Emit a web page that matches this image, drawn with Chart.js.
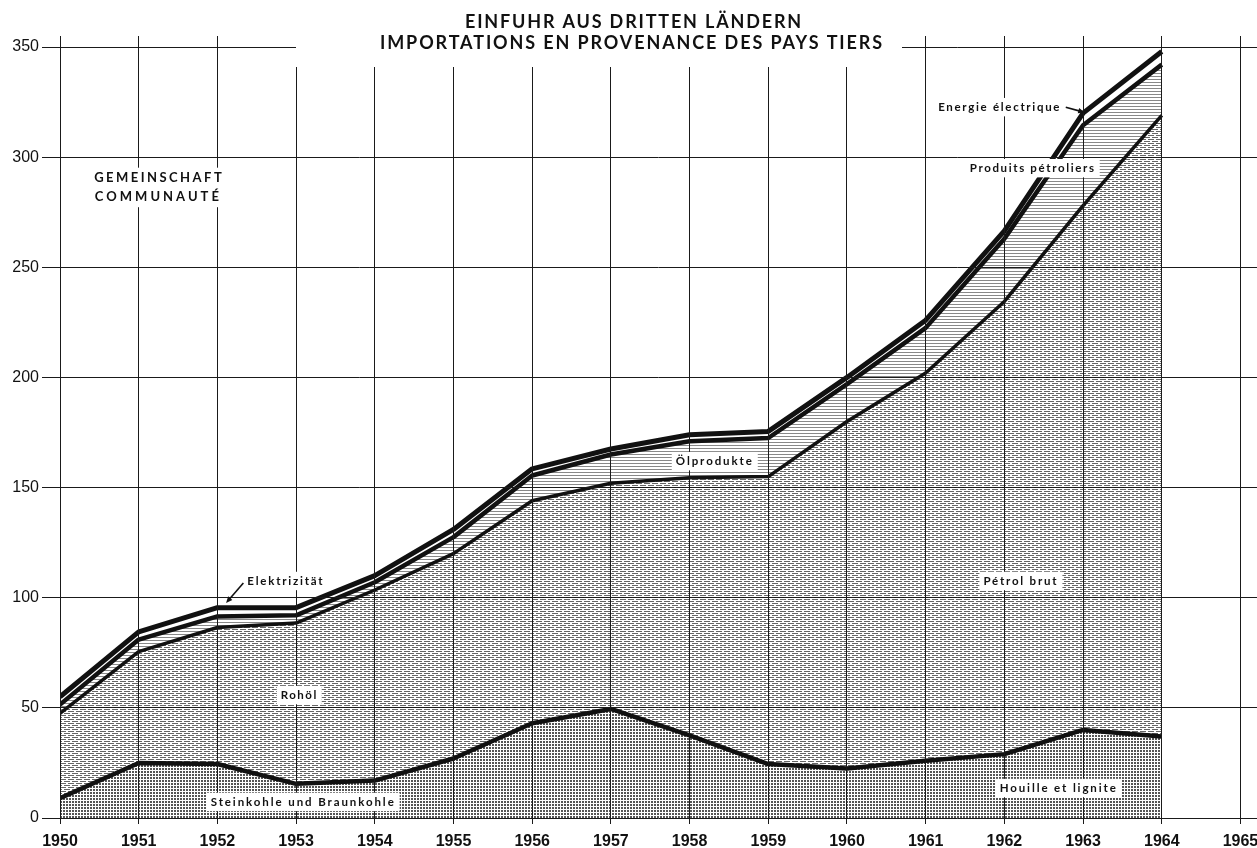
<!DOCTYPE html>
<html>
<head>
<meta charset="utf-8">
<script src="https://cdn.jsdelivr.net/npm/chart.js@4"></script>
<style>
  html, body { margin: 0; background: #fff; }
  canvas { display: block; }
</style>
</head>
<body>
<canvas id="chart" width="1257" height="848"></canvas>
<script>
// Data (imports from third countries, stacked)
const years = [1950, 1951, 1952, 1953, 1954, 1955, 1956, 1957, 1958, 1959, 1960, 1961, 1962, 1963, 1964];
const coal = [9, 25, 24.5, 15.5, 17, 27, 43, 49.5, 37.5, 24.5, 22.5, 26, 29, 40, 37];
const crudeOil = [38.5, 50.5, 62, 73, 86.5, 93, 101, 102.5, 117, 130.5, 157.5, 176, 205.5, 238, 282];
const oilProducts = [4, 5.5, 5, 3.5, 3.5, 7.5, 11.5, 13, 16.5, 17.5, 17, 20.5, 28.5, 36.5, 23];
const electricity = [3.5, 3.5, 4, 3.5, 3, 3.5, 3, 2.5, 3, 3, 3, 3.5, 3.5, 5.5, 6];
const xTicks = [1950, 1951, 1952, 1953, 1954, 1955, 1956, 1957, 1958, 1959, 1960, 1961, 1962, 1963, 1964, 1965];
const yTicks = [0, 50, 100, 150, 200, 250, 300, 350];

const canvas = document.getElementById('chart');
const mainCtx = canvas.getContext('2d');

// Small tiles that imitate the printed screen textures
const makePattern = (w, h, draw) => {
  const c = document.createElement('canvas');
  c.width = w;
  c.height = h;
  const g = c.getContext('2d');
  g.fillStyle = '#fff';
  g.fillRect(0, 0, w, h);
  draw(g);
  return mainCtx.createPattern(c, 'repeat');
};

const coalFill = makePattern(3, 3, g => {
  g.fillStyle = '#555';
  g.fillRect(0, 0, 2, 2);
});
const crudeFill = makePattern(8, 4, g => {
  g.fillStyle = '#666';
  g.fillRect(0, 1, 6, 1);
  g.fillRect(4, 3, 4, 1);
  g.fillRect(0, 3, 2, 1);
});
const productsFill = makePattern(1, 3, g => {
  g.fillStyle = '#888';
  g.fillRect(0, 1, 1, 1);
});

const toPoints = values => values.map((v, i) => ({ x: years[i], y: v }));

// Text labels placed in data units
const LABEL_FONT = "Lato, 'Open Sans', sans-serif";
const labels = [
  { text: 'GEMEINSCHAFT', x: 1951.26, y: 290.5, size: 13, width: 130 },
  { text: 'COMMUNAUTÉ', x: 1951.25, y: 282, size: 13, width: 127 },
  { text: 'Elektrizität', x: 1952.87, y: 107.6, size: 11.5, width: 77 },
  { text: 'Rohöl', x: 1953.04, y: 55.8, size: 11.5, width: 37 },
  { text: 'Steinkohle und Braunkohle', x: 1953.09, y: 7.3, size: 11.5, width: 185 },
  { text: 'Ölprodukte', x: 1958.32, y: 162, size: 11.5, width: 78 },
  { text: 'Pétrol brut', x: 1962.21, y: 107.6, size: 11.5, width: 75 },
  { text: 'Houille et lignite', x: 1962.69, y: 13.6, size: 11.5, width: 118 },
  { text: 'Produits pétroliers', x: 1962.36, y: 295, size: 11.5, width: 126 },
  { text: 'Energie électrique', x: 1961.94, y: 322.7, size: 11.5, width: 123 }
];
const arrows = [
  { from: [1952.33, 106.7], to: [1952.11, 97.6] },
  { from: [1962.78, 322.7], to: [1963.02, 320.3] }
];

const drawText = (ctx, text, cx, cy, size, width, box) => {
  ctx.save();
  ctx.font = `bold ${size}px ${LABEL_FONT}`;
  ctx.letterSpacing = '0px';
  const w0 = ctx.measureText(text).width;
  const spacing = Math.max(0, (width - w0) / text.length);
  ctx.letterSpacing = spacing + 'px';
  if (box) {
    ctx.fillStyle = '#fff';
    ctx.fillRect(cx - width / 2 - 4, cy - size * 0.8, width + 8, size * 1.6);
  }
  ctx.fillStyle = '#111';
  ctx.textAlign = 'left';
  ctx.textBaseline = 'middle';
  ctx.fillText(text, cx - width / 2, cy);
  ctx.restore();
};

const annotationPlugin = {
  id: 'annotations',
  afterDraw(chart) {
    const { ctx, scales: { x, y } } = chart;

    // Title block blanks out the grid behind it
    ctx.save();
    ctx.fillStyle = '#fff';
    ctx.fillRect(296, 0, 606, 67);
    ctx.restore();
    drawText(ctx, 'EINFUHR AUS DRITTEN LÄNDERN', 634, 22, 18, 338, false);
    drawText(ctx, 'IMPORTATIONS EN PROVENANCE DES PAYS TIERS', 632, 43, 18, 504, false);

    labels.forEach(l => {
      drawText(ctx, l.text, x.getPixelForValue(l.x), y.getPixelForValue(l.y), l.size, l.width, true);
    });

    // Pointer arrows
    ctx.save();
    ctx.strokeStyle = '#111';
    ctx.fillStyle = '#111';
    ctx.lineWidth = 1.6;
    arrows.forEach(a => {
      const x1 = x.getPixelForValue(a.from[0]);
      const y1 = y.getPixelForValue(a.from[1]);
      const x2 = x.getPixelForValue(a.to[0]);
      const y2 = y.getPixelForValue(a.to[1]);
      const ang = Math.atan2(y2 - y1, x2 - x1);
      ctx.beginPath();
      ctx.moveTo(x1, y1);
      ctx.lineTo(x2 - 4 * Math.cos(ang), y2 - 4 * Math.sin(ang));
      ctx.stroke();
      ctx.beginPath();
      ctx.moveTo(x2, y2);
      ctx.lineTo(x2 - 7 * Math.cos(ang - 0.4), y2 - 7 * Math.sin(ang - 0.4));
      ctx.lineTo(x2 - 7 * Math.cos(ang + 0.4), y2 - 7 * Math.sin(ang + 0.4));
      ctx.closePath();
      ctx.fill();
    });
    ctx.restore();
  }
};

const lineStyle = {
  borderColor: '#111',
  pointRadius: 0,
  tension: 0,
  borderJoinStyle: 'round'
};

new Chart(mainCtx, {
  type: 'line',
  data: {
    datasets: [
      { ...lineStyle, label: 'Steinkohle und Braunkohle', data: toPoints(coal), fill: 'origin', backgroundColor: coalFill, borderWidth: 4.5 },
      { ...lineStyle, label: 'Rohöl', data: toPoints(crudeOil), fill: '-1', backgroundColor: crudeFill, borderWidth: 3.5 },
      { ...lineStyle, label: 'Ölprodukte', data: toPoints(oilProducts), fill: '-1', backgroundColor: productsFill, borderWidth: 4.5 },
      { ...lineStyle, label: 'Elektrizität', data: toPoints(electricity), fill: '-1', backgroundColor: '#fff', borderWidth: 5 }
    ]
  },
  options: {
    responsive: false,
    animation: false,
    layout: { padding: { top: 36, right: 0, bottom: 0, left: 0 } },
    plugins: {
      legend: { display: false },
      tooltip: { enabled: false },
      title: { display: false }
    },
    scales: {
      x: {
        type: 'linear',
        min: 1950,
        max: 1965.21,
        afterBuildTicks: axis => { axis.ticks = xTicks.map(v => ({ value: v })); },
        afterFit: scale => {
          scale.height = 30;
          scale.paddingLeft = 0;
          scale.paddingRight = 0;
        },
        border: { display: false },
        grid: { z: 1, color: '#1a1a1a', lineWidth: 1, tickLength: 6 },
        ticks: {
          padding: 8,
          maxRotation: 0,
          autoSkip: false,
          color: '#111',
          font: { family: "'Liberation Sans Narrow', 'Liberation Sans', Arial", size: 16, weight: 'bold' },
          callback: v => String(v)
        }
      },
      y: {
        stacked: true,
        min: 0,
        max: 355,
        afterBuildTicks: axis => { axis.ticks = yTicks.map(v => ({ value: v })); },
        afterFit: scale => {
          scale.width = 60;
          scale.paddingTop = 0;
          scale.paddingBottom = 0;
        },
        border: { display: false },
        grid: { z: 1, color: '#1a1a1a', lineWidth: 1, tickLength: 18 },
        ticks: {
          padding: 3,
          color: '#111',
          font: { family: "'Liberation Sans', Arial", size: 16 },
          callback: v => String(v)
        }
      }
    }
  },
  plugins: [annotationPlugin]
});
</script>
</body>
</html>
